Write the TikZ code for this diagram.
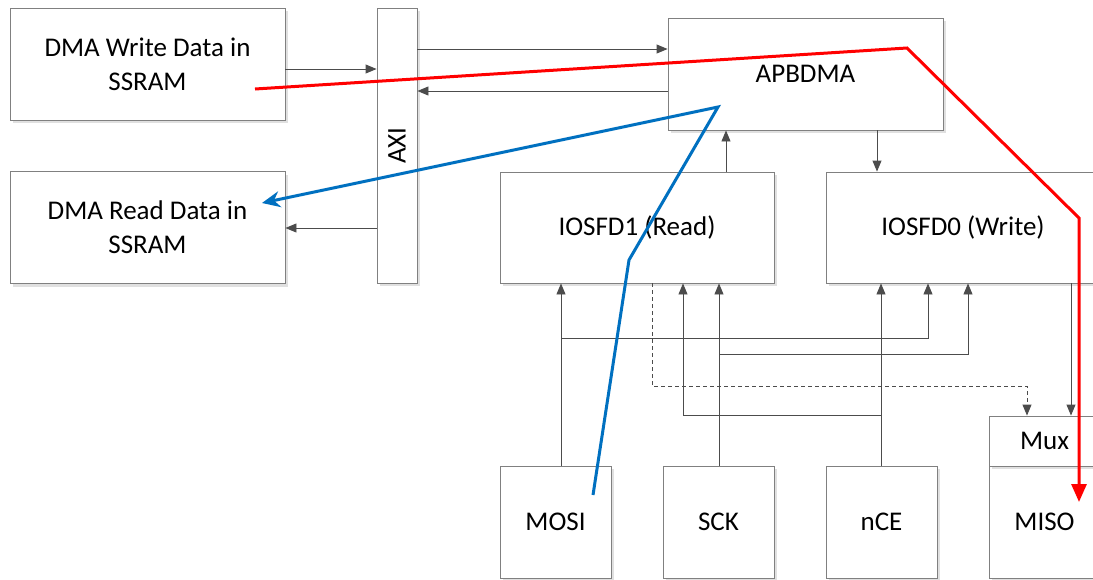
\documentclass[tikz,border=0pt]{standalone}
\usepackage{fontspec}
\setmainfont{Carlito}
\usetikzlibrary{arrows.meta,positioning,shadows}

\begin{document}
\begin{tikzpicture}[
  x=1pt, y=-1pt,
  font=\fontsize{27}{34}\selectfont,
  box/.style={draw=black!50, line width=0.9pt, fill=white, align=center, inner sep=0pt,
              drop shadow={shadow xshift=3pt, shadow yshift=-3pt, fill=black!12, opacity=1}},
  wide/.style={box, minimum width=275pt, minimum height=112pt},
  pin/.style={box, minimum width=111pt, minimum height=112pt},
  arr/.style={-{Triangle[length=11pt,width=9pt]}, draw=black!65, line width=0.9pt, color=black!70},
  dsh/.style={arr, dashed, dash pattern=on 4pt off 3pt},
  wpath/.style={-{Triangle[length=18pt,width=15pt]}, draw=red, line width=3pt},
  rpath/.style={-{Stealth[length=18pt,width=16pt]}, draw={rgb,255:red,0;green,112;blue,192}, line width=3pt}
]
\useasboundingbox (0,0) rectangle (1093,579);

% memory side
\node[wide] (wr) at (147.5,64) {DMA Write Data in\\SSRAM};
\node[wide] (rd) at (147.5,227.5) {DMA Read Data in\\SSRAM};
\node[box, minimum width=40pt, minimum height=275pt] (axi) at (397,145.5) {};
\node[rotate=90] at (axi.center) {AXI};

% dma and fifos
\node[wide] (apb) at (805.5,74) {APBDMA};
\node[wide, minimum width=274pt, minimum height=111pt] (rdfd) at (637,227.5) {IOSFD1 (Read)};
\node[wide, minimum width=274pt, minimum height=111pt] (wrfd) at (963,227.5) {IOSFD0 (Write)};

% spi pins
\node[pin] (mosi) at (555.5,522) {MOSI};
\node[pin] (sck) at (718.5,522) {SCK};
\node[pin] (nce) at (881.5,522) {nCE};
\node[pin] (miso) at (1044.5,522) {MISO};
\node[box, minimum width=111pt, minimum height=50pt] (mux) at (1044.5,441) {Mux};

% bus arrows
\draw[arr] ([yshift=-5pt]wr.east) -- ([yshift=-5pt]wr.east -| axi.west);
\draw[arr] ([yshift=25pt]apb.west -| axi.east) -- ([yshift=25pt]apb.west);
\draw[arr] ([yshift=-17pt]apb.west) -- ([yshift=-17pt]apb.west -| axi.east);
\draw[arr] ([yshift=-0.5pt]rd.east -| axi.west) -- ([yshift=-0.5pt]rd.east);
\draw[arr] ([xshift=89pt]rdfd.north) -- ([xshift=89pt]rdfd.north |- apb.south);
\draw[arr] ([xshift=-86pt]wrfd.north |- apb.south) -- ([xshift=-86pt]wrfd.north);
\draw[arr] ([xshift=108pt]wrfd.south) -- ([xshift=108pt]wrfd.south |- mux.north);
\draw[dsh] ([xshift=15pt]rdfd.south) -- ++(0,103) -| ([xshift=-17.5pt]mux.north);

% pin inputs
\draw[arr] ([xshift=5.5pt]mosi.north) -- ([xshift=5.5pt]mosi.north |- rdfd.south);
\draw[arr] ([xshift=5.5pt]mosi.north) ++(0,-127) -| ([xshift=-35pt]wrfd.south);
\draw[arr] ([xshift=0.5pt]sck.north) -- ([xshift=0.5pt]sck.north |- rdfd.south);
\draw[arr] ([xshift=0.5pt]sck.north) ++(0,-111) -| ([xshift=5pt]wrfd.south);
\draw[arr] ([xshift=-0.5pt]nce.north) -- ([xshift=-0.5pt]nce.north |- wrfd.south);
\draw[arr] ([xshift=-0.5pt]nce.north) ++(0,-50) -| ([xshift=46pt]rdfd.south);

% data paths
\coordinate (w0) at (255,89);
\coordinate (w1) at (907,48);
\coordinate (w2) at (1079,218);
\coordinate (w3) at (1079,502);
\draw[wpath] (w0) -- (w1) -- (w2) -- (w3);
\coordinate (r0) at (593,495);
\coordinate (r1) at (629,260);
\coordinate (r2) at (718,107);
\coordinate (r3) at (262,203);
\draw[rpath] (r0) -- (r1) -- (r2) -- (r3);
\end{tikzpicture}
\end{document}
